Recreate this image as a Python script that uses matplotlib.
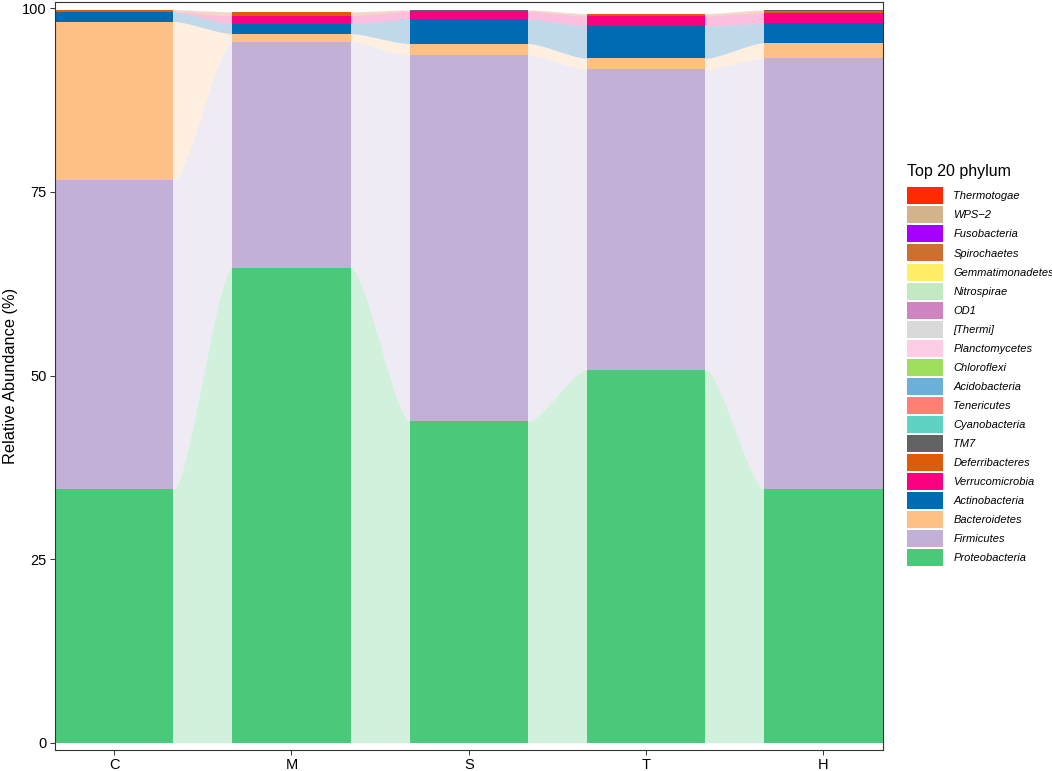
import numpy as np
import matplotlib
matplotlib.use("Agg")
import matplotlib.pyplot as plt
from matplotlib.patches import Patch

plt.rcParams['font.family'] = ['Liberation Sans', 'DejaVu Sans']

samples = ["C", "M", "S", "T", "H"]

# stacking order, bottom to top
phyla = ["Proteobacteria", "Firmicutes", "Bacteroidetes", "Actinobacteria",
         "Verrucomicrobia", "Deferribacteres", "TM7", "Cyanobacteria",
         "Tenericutes", "Acidobacteria", "Chloroflexi", "Planctomycetes",
         "[Thermi]", "OD1", "Nitrospirae", "Gemmatimonadetes", "Spirochaetes",
         "Fusobacteria", "WPS\u22122", "Thermotogae"]

colors = ["#4AC97A", "#C3B0D7", "#FFC086", "#006BB2",
          "#F8007F", "#DD5C0A", "#636363", "#5ED3C5",
          "#FF8072", "#6BB0D6", "#9FDD5F", "#FDCCE5",
          "#D9D9D9", "#CF83C0", "#C2E9C4", "#FFEE66", "#CC7030",
          "#A600FF", "#D3B38B", "#FF2A00"]

proteobacteria = [34.5, 64.7, 43.8, 50.8, 34.6]
firmicutes = [42.1, 30.7, 49.8, 40.9, 58.6]
bacteroidetes = [21.6, 1.15, 1.6, 1.5, 2.1]
actinobacteria = [1.3, 1.35, 3.3, 4.4, 2.65]
verrucomicrobia = [0.05, 1.1, 1.1, 1.35, 1.45]
deferribacteres = [0.2, 0.45, 0.1, 0.25, 0.3]
tm7 = [0.005, 0.01, 0.01, 0.005, 0.005]
cyanobacteria = [0.005, 0.005, 0.01, 0.01, 0.005]
tenericutes = [0.01, 0.005, 0.01, 0.01, 0.005]
acidobacteria = [0.005, 0.005, 0.005, 0.01, 0.005]
chloroflexi = [0.005, 0.005, 0.005, 0.005, 0.005]
planctomycetes = [0.005, 0.005, 0.005, 0.005, 0.005]
thermi = [0.005, 0.005, 0.005, 0.005, 0.005]
od1 = [0.005, 0.005, 0.005, 0.005, 0.005]
nitrospirae = [0.005, 0.005, 0.005, 0.005, 0.005]
gemmatimonadetes = [0.005, 0.005, 0.005, 0.005, 0.005]
spirochaetes = [0.005, 0.005, 0.005, 0.005, 0.005]
fusobacteria = [0.005, 0.005, 0.005, 0.005, 0.005]
wps2 = [0.005, 0.005, 0.005, 0.005, 0.005]
thermotogae = [0.005, 0.005, 0.005, 0.005, 0.005]

values = np.array([proteobacteria, firmicutes, bacteroidetes, actinobacteria,
                   verrucomicrobia, deferribacteres, tm7, cyanobacteria,
                   tenericutes, acidobacteria, chloroflexi, planctomycetes,
                   thermi, od1, nitrospirae, gemmatimonadetes, spirochaetes,
                   fusobacteria, wps2, thermotogae])

W, H = 1052, 771
fig = plt.figure(figsize=(W / 100, H / 100), dpi=100)
ax = fig.add_axes([55 / W, 21 / H, 827.5 / W, 748 / H])

x = np.arange(len(samples))
width = 2 / 3
top = np.cumsum(values, axis=0)
bottom = top - values


def flow_shape(n=200, k=0.25):
    # bezier-like sigmoid, like the alluvial flows
    u = np.linspace(0, 1, n)
    xs = 3 * (1 - u) ** 2 * u * k + 3 * (1 - u) * u ** 2 * (1 - k) + u ** 3
    ys = 3 * (1 - u) * u ** 2 + u ** 3
    t = np.linspace(0, 1, n)
    return t, np.interp(t, xs, ys)


t, s = flow_shape()
ov = 0.01  # tuck flows a bit under the bars, no white seams
for i in range(len(samples) - 1):
    x0 = x[i] + width / 2
    x1 = x[i + 1] - width / 2
    xx = x0 + (x1 - x0) * t
    xx = np.concatenate([[x0 - ov], xx, [x1 + ov]])
    for k in range(len(phyla)):
        lo = bottom[k, i] + (bottom[k, i + 1] - bottom[k, i]) * s
        hi = top[k, i] + (top[k, i + 1] - top[k, i]) * s
        lo = np.concatenate([[lo[0]], lo, [lo[-1]]])
        hi = np.concatenate([[hi[0]], hi, [hi[-1]]])
        ax.fill_between(xx, lo, hi, color=colors[k], alpha=0.25, lw=0, zorder=1)

for k in range(len(phyla)):
    ax.bar(x, values[k], width=width, bottom=bottom[k], color=colors[k],
           lw=0, zorder=2)

ax.set_xlim(-width / 2, len(samples) - 1 + width / 2)
ax.set_ylim(-0.99, 100.86)
ax.set_xticks(x)
ax.set_xticklabels(samples)
ax.set_yticks([0, 25, 50, 75, 100])
ax.set_ylabel("Relative Abundance (%)", fontsize=11.8, labelpad=3)
ax.tick_params(labelsize=10.5, length=3.5, width=0.7, color="#333333",
               pad=2.5, labelcolor="black")
for sp in ax.spines.values():
    sp.set_color("#333333")
    sp.set_linewidth(0.8)

handles = [Patch(facecolor=colors[k], lw=0) for k in range(len(phyla))][::-1]
leg = ax.legend(handles, phyla[::-1], loc="upper left",
                bbox_to_anchor=(906.7 / W, 1 - 187.3 / H),
                bbox_transform=fig.transFigure, frameon=False,
                prop={"style": "italic", "size": 8},
                handlelength=3.3, handleheight=1.977, labelspacing=0.185,
                handletextpad=0.9, borderpad=0, borderaxespad=0)
fig.text(906.7 / W, 1 - 171.7 / H, "Top 20 phylum", fontsize=11.5,
         ha="left", va="center")

fig.savefig("out.png", dpi=100)
